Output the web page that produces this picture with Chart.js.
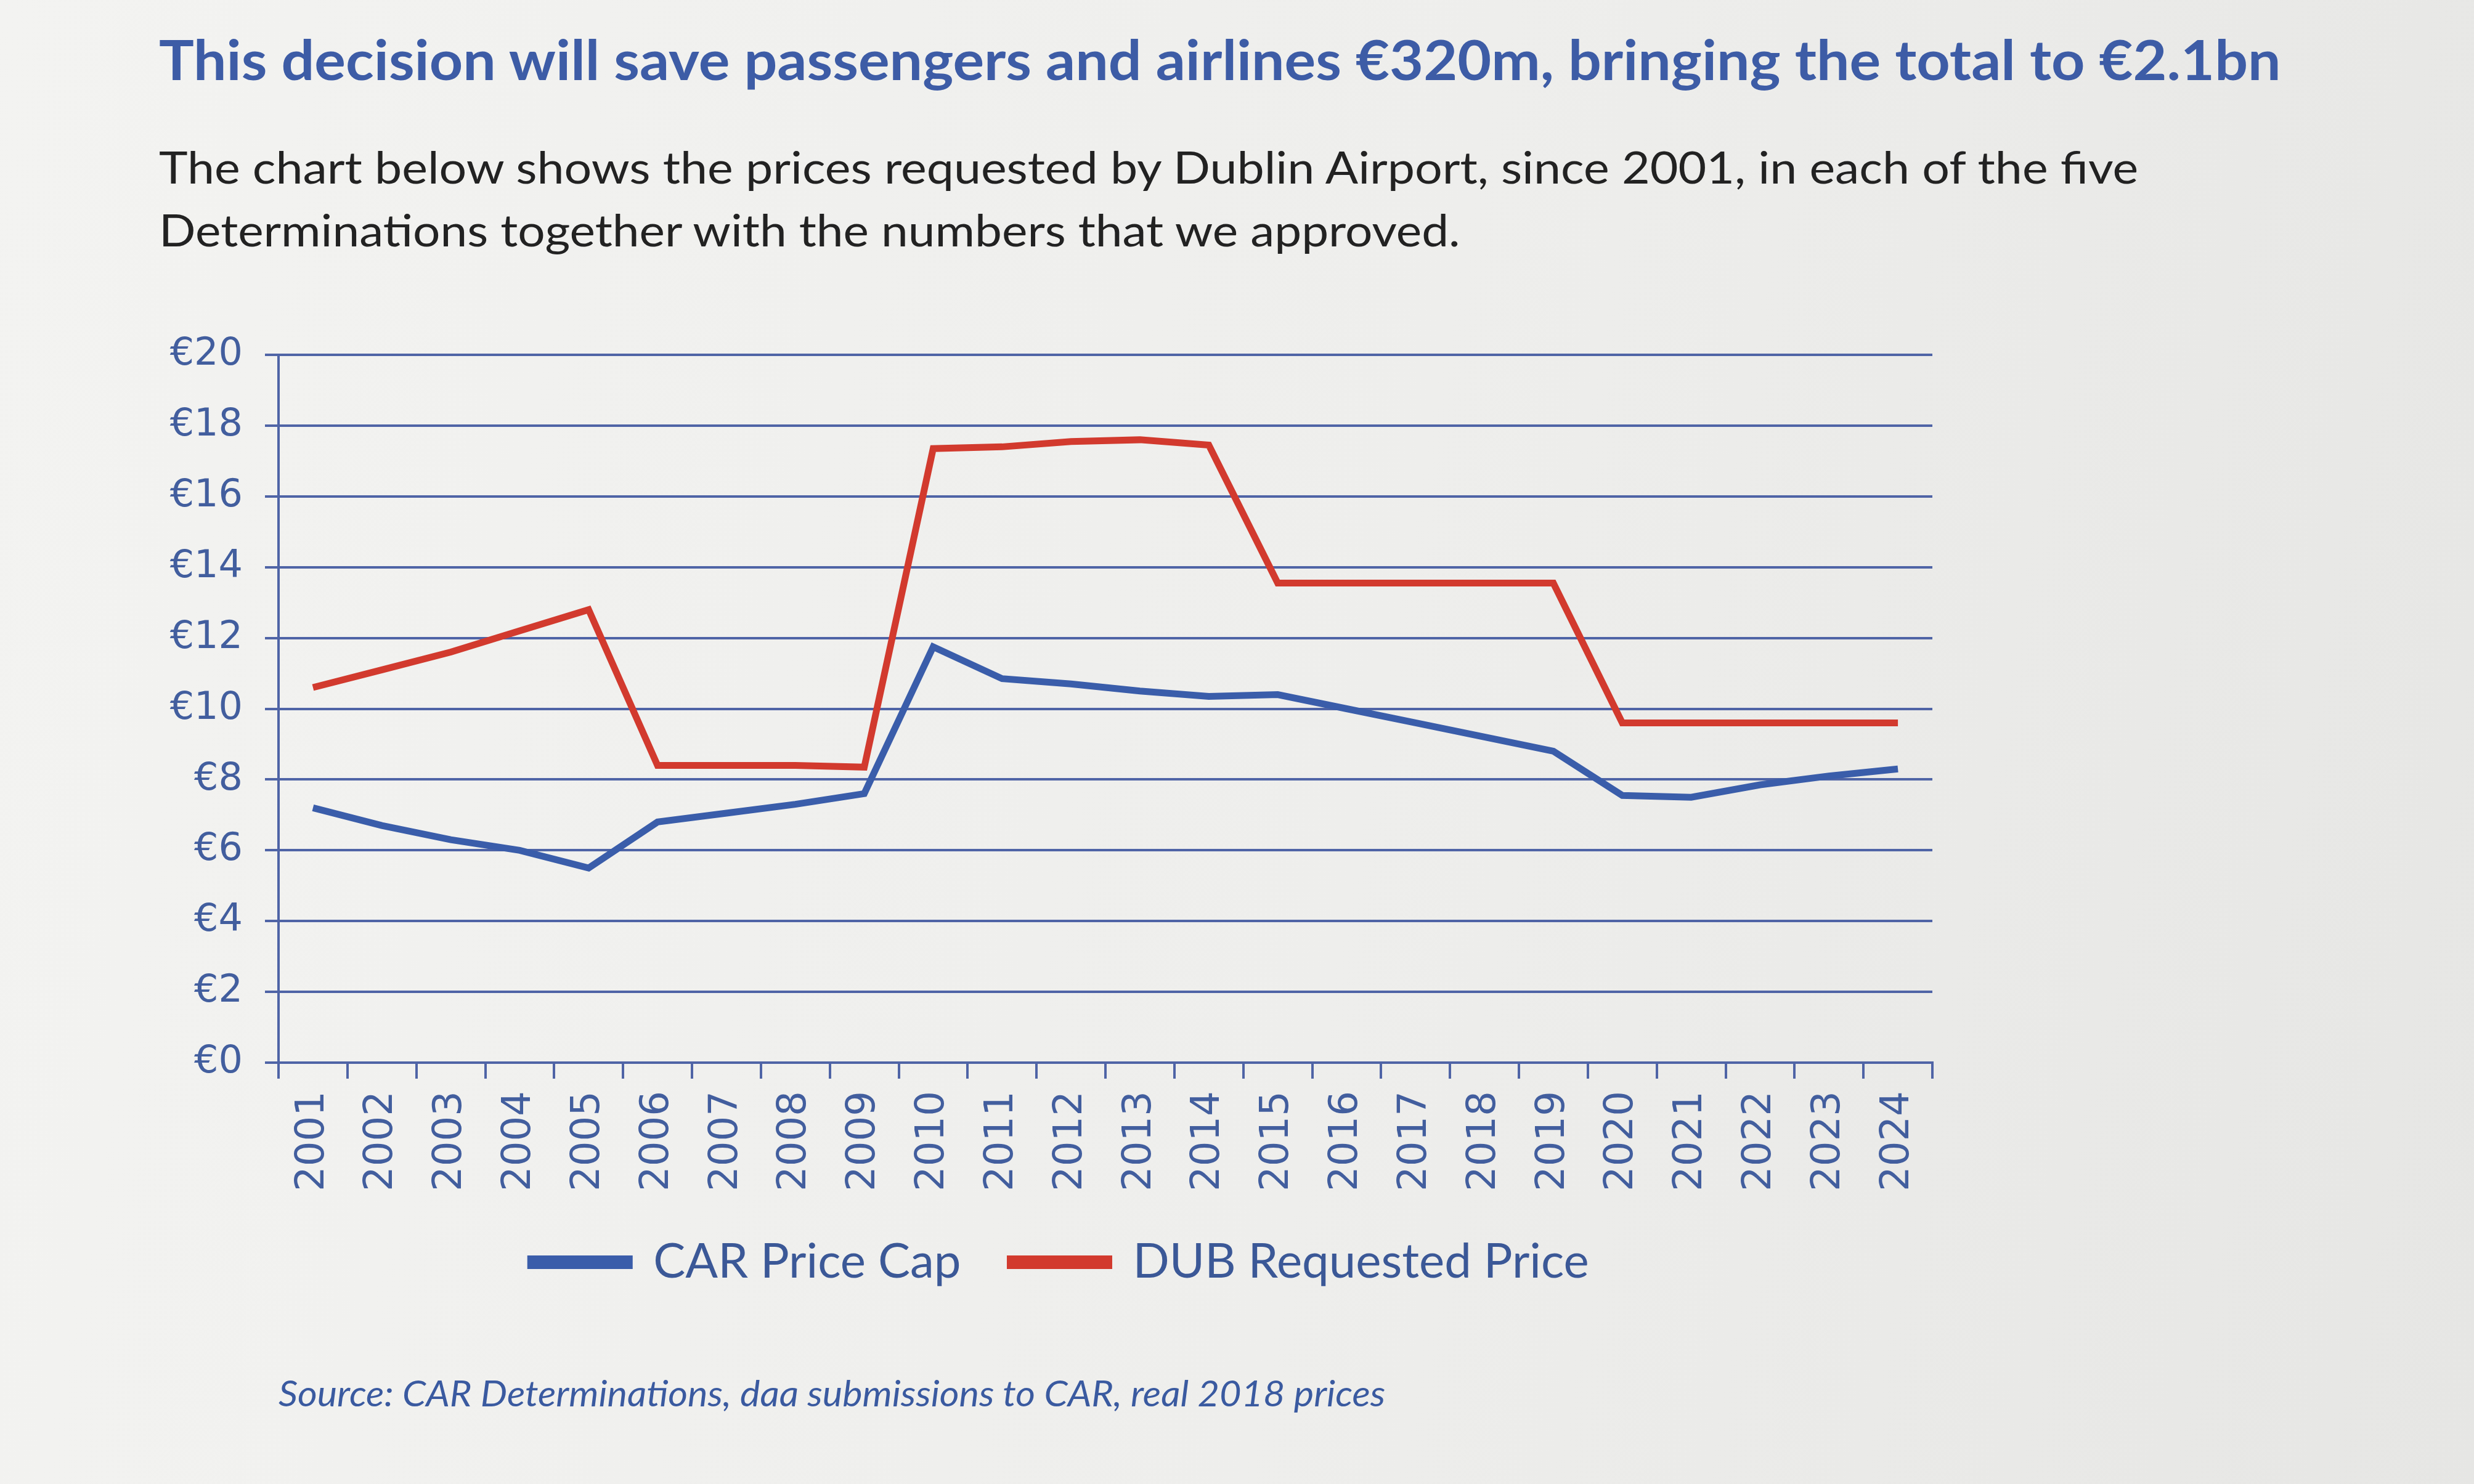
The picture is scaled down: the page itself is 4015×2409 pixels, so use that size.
<!DOCTYPE html>
<html>
<head>
<meta charset="utf-8">
<title>CAR price cap vs DUB requested price</title>
<script src="https://cdn.jsdelivr.net/npm/chart.js@4"></script>
<style>
  html, body { margin: 0; padding: 0; }
  body {
    width: 4015px; height: 2409px; overflow: hidden; position: relative;
    background: linear-gradient(100deg, #f3f3f1 0%, #eeeeec 55%, #e6e6e4 100%);
    font-family: Lato, "Open Sans", sans-serif;
  }
  .txt { position: absolute; white-space: nowrap; line-height: 1; transform-origin: 0 0; }
  #title { left: 258px; top: 50px; font-size: 90px; font-weight: 700; color: #3d5ca6; }
  .sub { left: 258px; font-size: 72px; color: #222; }
  #sub1 { top: 234px; }
  #sub2 { top: 336px; }
  #source { left: 452px; top: 2232px; font-size: 58px; font-style: italic; color: #3a5aa0; }
  #wrap { position: absolute; left: 0; top: 480px; }
</style>
</head>
<body>
<div id="title" class="txt" data-w="3444">This decision will save passengers and airlines €320m, bringing the total to €2.1bn</div>
<div id="sub1" class="txt sub" data-w="3212">The chart below shows the prices requested by Dublin Airport, since 2001, in each of the five</div>
<div id="sub2" class="txt sub" data-w="2112">Determinations together with the numbers that we approved.</div>
<div id="wrap"><canvas id="chart" width="3440" height="1660"></canvas></div>
<div id="source" class="txt" data-w="1796">Source: CAR Determinations, daa submissions to CAR, real 2018 prices</div>

<script>
// values (euro, real 2018 prices)
const years = ['2001', '2002', '2003', '2004', '2005', '2006', '2007', '2008',
    '2009', '2010', '2011', '2012', '2013', '2014', '2015', '2016',
    '2017', '2018', '2019', '2020', '2021', '2022', '2023', '2024'];

const carPriceCap = [7.2, 6.7, 6.3, 6.0, 5.5, 6.8, 7.05, 7.3,
    7.6, 11.75, 10.85, 10.7, 10.5, 10.35, 10.4, 10.0,
    9.6, 9.2, 8.8, 7.55, 7.5, 7.85, 8.1, 8.3];

const dubRequested = [10.6, 11.1, 11.6, 12.2, 12.8, 8.4, 8.4, 8.4,
    8.35, 17.35, 17.4, 17.55, 17.6, 17.45, 13.55, 13.55,
    13.55, 13.55, 13.55, 9.6, 9.6, 9.6, 9.6, 9.6];

const yTickLabels = ['€0', '€2', '€4', '€6', '€8', '€10', '€12', '€14', '€16', '€18', '€20'];

const gridBlue = '#4f64a6';
const labelBlue = '#425e9e';

function fitText() {
    document.querySelectorAll('.txt').forEach(function (el) {
        const target = parseFloat(el.dataset.w);
        const w = el.offsetWidth;
        if (w > 0) el.style.transform = 'scaleX(' + (target / w) + ')';
    });
}

function renderChart() {
    Chart.defaults.font.family = 'Lato, sans-serif';

    new Chart(document.getElementById('chart'), {
        type: 'line',
        data: {
            labels: years,
            datasets: [{
                label: 'CAR Price Cap',
                data: carPriceCap,
                borderColor: '#3a5daa',
                backgroundColor: '#3a5daa',
                borderWidth: 11,
                pointRadius: 0,
                tension: 0
            }, {
                label: 'DUB Requested Price',
                data: dubRequested,
                borderColor: '#d23a2e',
                backgroundColor: '#d23a2e',
                borderWidth: 11,
                pointRadius: 0,
                tension: 0
            }]
        },
        options: {
            responsive: false,
            devicePixelRatio: 1,
            animation: false,
            layout: { padding: { top: 96, bottom: 42, left: 0, right: 0 } },
            plugins: {
                tooltip: { enabled: false },
                legend: {
                    position: 'bottom',
                    labels: {
                        boxWidth: 160,
                        boxHeight: 11,
                        padding: 80,
                        color: '#3b5897',
                        font: { family: 'Lato', size: 78 }
                    }
                }
            },
            scales: {
                x: {
                    offset: true,
                    grid: {
                        offset: true,
                        drawOnChartArea: false,
                        drawTicks: true,
                        tickLength: 26,
                        color: gridBlue,
                        lineWidth: 4
                    },
                    border: { display: true, color: gridBlue, width: 4 },
                    ticks: {
                        color: labelBlue,
                        font: { family: 'DejaVu Sans', size: 64 },
                        minRotation: 90,
                        maxRotation: 90,
                        autoSkip: false,
                        padding: 20
                    },
                    afterFit: function (s) { s.height = 205; }
                },
                y: {
                    min: 0,
                    max: 20,
                    grid: { color: gridBlue, lineWidth: 4, tickLength: 22 },
                    border: { display: true, color: gridBlue, width: 4 },
                    ticks: {
                        stepSize: 2,
                        color: labelBlue,
                        padding: 36,
                        font: { family: 'DejaVu Sans', size: 62 },
                        callback: function (v) { return yTickLabels[v / 2]; }
                    },
                    afterFit: function (s) { s.width = 452; }
                },
                // empty axis that only reserves the page margin right of the plot
                spacer: {
                    position: 'right',
                    display: true,
                    grid: { display: false },
                    border: { display: false },
                    ticks: { display: false },
                    afterFit: function (s) { s.width = 304; }
                }
            }
        }
    });
}

document.fonts.ready.then(function () {
    fitText();
    renderChart();
});
</script>
</body>
</html>
